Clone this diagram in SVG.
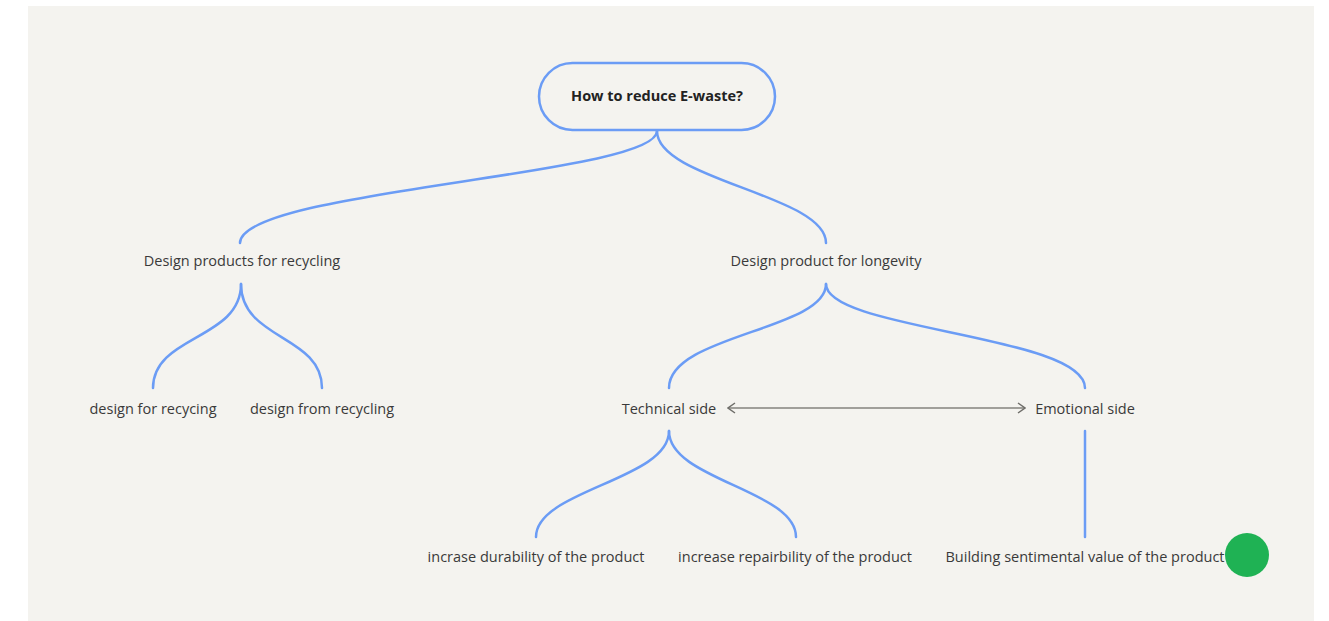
<svg xmlns="http://www.w3.org/2000/svg" width="1329" height="621" viewBox="0 0 1329 621">
<defs>
<style>
.lbl{font-family:"Open Sans","Noto Sans",sans-serif;font-size:14.5px;fill:#3a3a3a;text-anchor:middle;}
.root{font-family:"Open Sans","Noto Sans",sans-serif;font-size:14.5px;font-weight:bold;fill:#222;text-anchor:middle;}
.c{fill:none;stroke:#6b9cf5;stroke-width:2.5;stroke-linecap:round;}
.a{fill:none;stroke:#a09f9a;stroke-width:2;}
</style>
<marker id="ah" viewBox="0 0 10 12" refX="9" refY="6" markerWidth="10" markerHeight="12" markerUnits="userSpaceOnUse" orient="auto-start-reverse">
<path d="M2,1 L9,6 L2,11" fill="none" stroke="#6e6d69" stroke-width="1.5"/>
</marker>
</defs>
<rect x="0" y="0" width="1329" height="621" fill="#ffffff"/>
<rect x="28" y="6" width="1286" height="615" fill="#f4f3ef"/>
<g id="connectors">
<path class="c" d="M657,131 C657,175 240,190 240,243"/>
<path class="c" d="M657,131 C657,180 826,195 826,243"/>
<path class="c" d="M241,284 C241,340 153,335 153,388"/>
<path class="c" d="M241,284 C241,340 322,335 322,388"/>
<path class="c" d="M826,284 C826,330 669,335 669,388"/>
<path class="c" d="M826,284 C826,330 1085,335 1085,388"/>
<path class="c" d="M669,431 C669,480 536,490 536,537"/>
<path class="c" d="M669,431 C669,480 796,490 796,537"/>
<path class="c" d="M1085,431 L1085,537"/>
<path class="a" d="M728,408 L1025,408" marker-start="url(#ah)" marker-end="url(#ah)"/>
</g>
<g id="root">
<rect x="539" y="63" width="236" height="67" rx="33.5" fill="#f4f3ef" stroke="#6b9cf5" stroke-width="2.5"/>
<text class="root" x="657" y="101">How to reduce E-waste?</text>
</g>
<g id="n-recycling"><text class="lbl" x="242" y="266">Design products for recycling</text></g>
<g id="n-longevity"><text class="lbl" x="826" y="266">Design product for longevity</text></g>
<g id="n-for"><text class="lbl" x="153" y="414">design for recycing</text></g>
<g id="n-from"><text class="lbl" x="322" y="414">design from recycling</text></g>
<g id="n-tech"><text class="lbl" x="669" y="414">Technical side</text></g>
<g id="n-emo"><text class="lbl" x="1085" y="414">Emotional side</text></g>
<g id="n-dur"><text class="lbl" x="536" y="562">incrase durability of the product</text></g>
<g id="n-rep"><text class="lbl" x="795" y="562">increase repairbility of the product</text></g>
<g id="n-sent"><text class="lbl" x="1085" y="562">Building sentimental value of the product</text></g>
<g id="dot"><circle cx="1247" cy="555" r="22" fill="#1fb254"/></g>
</svg>
